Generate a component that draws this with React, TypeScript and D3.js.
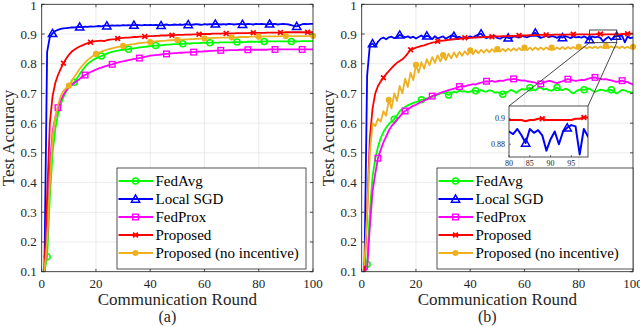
import React, { useEffect, useRef } from 'react';
import * as d3 from 'd3';

// communication rounds on the x axis
const rounds = d3.range(1, 101);

const names = ['FedAvg', 'Local SGD', 'FedProx', 'Proposed', 'Proposed (no incentive)'];
const colors = ['#00ff00', '#0000ff', '#ff00ff', '#ff0000', '#edb120'];
const markers = ['circle', 'triangle', 'square', 'x', 'dot'];
const markerStart = [2, 4, 6, 8, 10];

const xTicks = [0, 20, 40, 60, 80, 100];
const yTicks = [0.1, 0.2, 0.3, 0.4, 0.5, 0.6, 0.7, 0.8, 0.9, 1];
const insetXTicks = [80, 85, 90, 95];
const insetYTicks = [0.88, 0.9];

// ---- panel (a) ----
const fedAvgA = [
  0.100, 0.150, 0.350, 0.500, 0.580, 0.630, 0.662, 0.687, 0.706, 0.720,
  0.730, 0.738, 0.750, 0.765, 0.778, 0.790, 0.800, 0.807, 0.813, 0.818,
  0.822, 0.826, 0.830, 0.834, 0.837, 0.840, 0.842, 0.844, 0.846, 0.847,
  0.848, 0.849, 0.851, 0.852, 0.853, 0.855, 0.856, 0.857, 0.858, 0.859,
  0.860, 0.861, 0.862, 0.862, 0.863, 0.864, 0.864, 0.865, 0.866, 0.866,
  0.867, 0.867, 0.868, 0.868, 0.868, 0.869, 0.869, 0.869, 0.870, 0.870,
  0.870, 0.871, 0.871, 0.871, 0.871, 0.872, 0.872, 0.872, 0.872, 0.872,
  0.873, 0.873, 0.873, 0.873, 0.873, 0.874, 0.874, 0.874, 0.874, 0.874,
  0.874, 0.875, 0.875, 0.875, 0.875, 0.875, 0.875, 0.875, 0.875, 0.875,
  0.875, 0.875, 0.875, 0.875, 0.875, 0.876, 0.876, 0.876, 0.876, 0.876,
];
const localSgdA = [
  0.100, 0.840, 0.890, 0.902, 0.910, 0.914, 0.917, 0.919, 0.920, 0.921,
  0.922, 0.922, 0.923, 0.924, 0.923, 0.925, 0.924, 0.926, 0.925, 0.926,
  0.927, 0.926, 0.928, 0.928, 0.927, 0.929, 0.928, 0.929, 0.928, 0.930,
  0.929, 0.930, 0.929, 0.930, 0.931, 0.930, 0.929, 0.931, 0.930, 0.931,
  0.930, 0.931, 0.930, 0.929, 0.931, 0.932, 0.930, 0.931, 0.932, 0.931,
  0.932, 0.931, 0.933, 0.932, 0.931, 0.932, 0.933, 0.932, 0.931, 0.933,
  0.932, 0.933, 0.932, 0.934, 0.933, 0.932, 0.933, 0.932, 0.934, 0.933,
  0.932, 0.933, 0.934, 0.933, 0.932, 0.934, 0.933, 0.932, 0.934, 0.933,
  0.934, 0.933, 0.932, 0.934, 0.933, 0.934, 0.932, 0.933, 0.934, 0.933,
  0.932, 0.930, 0.927, 0.926, 0.929, 0.933, 0.934, 0.933, 0.934, 0.934,
];
const fedProxA = [
  0.100, 0.200, 0.450, 0.570, 0.620, 0.652, 0.676, 0.695, 0.710, 0.720,
  0.728, 0.735, 0.742, 0.749, 0.756, 0.762, 0.767, 0.772, 0.776, 0.780,
  0.784, 0.787, 0.790, 0.793, 0.796, 0.798, 0.801, 0.804, 0.806, 0.808,
  0.810, 0.812, 0.814, 0.816, 0.817, 0.819, 0.821, 0.823, 0.825, 0.827,
  0.828, 0.829, 0.830, 0.831, 0.832, 0.833, 0.834, 0.835, 0.836, 0.836,
  0.837, 0.837, 0.838, 0.838, 0.839, 0.839, 0.840, 0.841, 0.841, 0.842,
  0.842, 0.843, 0.843, 0.844, 0.844, 0.845, 0.845, 0.845, 0.846, 0.846,
  0.846, 0.846, 0.847, 0.847, 0.847, 0.847, 0.847, 0.847, 0.847, 0.847,
  0.847, 0.847, 0.847, 0.848, 0.848, 0.848, 0.848, 0.848, 0.848, 0.848,
  0.848, 0.848, 0.848, 0.848, 0.848, 0.848, 0.848, 0.848, 0.848, 0.848,
];
const proposedA = [
  0.100, 0.350, 0.600, 0.690, 0.735, 0.762, 0.783, 0.802, 0.817, 0.830,
  0.840, 0.847, 0.853, 0.858, 0.862, 0.866, 0.869, 0.872, 0.874, 0.876,
  0.877, 0.878, 0.876, 0.879, 0.881, 0.882, 0.883, 0.885, 0.886, 0.887,
  0.888, 0.888, 0.889, 0.890, 0.890, 0.891, 0.891, 0.892, 0.892, 0.893,
  0.893, 0.894, 0.894, 0.895, 0.895, 0.895, 0.896, 0.896, 0.896, 0.897,
  0.897, 0.897, 0.898, 0.898, 0.898, 0.899, 0.899, 0.899, 0.900, 0.900,
  0.900, 0.900, 0.901, 0.901, 0.901, 0.901, 0.902, 0.902, 0.902, 0.902,
  0.902, 0.903, 0.903, 0.903, 0.903, 0.903, 0.904, 0.904, 0.904, 0.904,
  0.904, 0.904, 0.905, 0.905, 0.905, 0.905, 0.905, 0.905, 0.905, 0.906,
  0.906, 0.906, 0.906, 0.906, 0.906, 0.906, 0.906, 0.906, 0.906, 0.906,
];
const noIncentiveA = [
  0.100, 0.200, 0.400, 0.550, 0.620, 0.660, 0.690, 0.708, 0.718, 0.726,
  0.740, 0.755, 0.769, 0.782, 0.794, 0.804, 0.813, 0.820, 0.827, 0.833,
  0.837, 0.841, 0.844, 0.847, 0.850, 0.852, 0.854, 0.856, 0.858, 0.860,
  0.862, 0.863, 0.865, 0.866, 0.868, 0.869, 0.870, 0.871, 0.872, 0.873,
  0.874, 0.875, 0.876, 0.877, 0.877, 0.878, 0.879, 0.879, 0.880, 0.880,
  0.881, 0.881, 0.882, 0.882, 0.883, 0.883, 0.884, 0.884, 0.885, 0.885,
  0.886, 0.886, 0.887, 0.887, 0.887, 0.888, 0.888, 0.888, 0.889, 0.889,
  0.889, 0.889, 0.890, 0.890, 0.890, 0.890, 0.891, 0.891, 0.891, 0.891,
  0.891, 0.892, 0.892, 0.892, 0.892, 0.892, 0.892, 0.893, 0.893, 0.893,
  0.893, 0.893, 0.893, 0.893, 0.893, 0.893, 0.893, 0.893, 0.894, 0.894,
];

// ---- panel (b) ----
const fedAvgB = [
  0.100, 0.125, 0.300, 0.420, 0.480, 0.520, 0.550, 0.570, 0.585, 0.597,
  0.605, 0.613, 0.626, 0.640, 0.648, 0.654, 0.660, 0.664, 0.668, 0.671,
  0.673, 0.679, 0.680, 0.683, 0.686, 0.688, 0.692, 0.696, 0.700, 0.703,
  0.700, 0.695, 0.701, 0.706, 0.703, 0.710, 0.706, 0.708, 0.704, 0.706,
  0.710, 0.709, 0.704, 0.712, 0.707, 0.706, 0.711, 0.709, 0.703, 0.704,
  0.700, 0.697, 0.703, 0.706, 0.712, 0.708, 0.702, 0.710, 0.715, 0.713,
  0.716, 0.719, 0.712, 0.710, 0.718, 0.720, 0.713, 0.716, 0.711, 0.709,
  0.715, 0.720, 0.714, 0.711, 0.716, 0.713, 0.706, 0.700, 0.707, 0.712,
  0.714, 0.712, 0.715, 0.716, 0.710, 0.705, 0.709, 0.713, 0.711, 0.708,
  0.712, 0.712, 0.706, 0.700, 0.706, 0.712, 0.710, 0.706, 0.704, 0.703,
];
const localSgdB = [
  0.100, 0.760, 0.862, 0.868, 0.858, 0.874, 0.884, 0.888, 0.882, 0.889,
  0.891, 0.886, 0.889, 0.897, 0.893, 0.889, 0.892, 0.887, 0.891, 0.885,
  0.890, 0.895, 0.888, 0.894, 0.891, 0.883, 0.893, 0.885, 0.889, 0.892,
  0.884, 0.890, 0.895, 0.893, 0.888, 0.891, 0.885, 0.890, 0.887, 0.892,
  0.888, 0.894, 0.898, 0.901, 0.890, 0.886, 0.891, 0.889, 0.893, 0.887,
  0.884, 0.889, 0.891, 0.887, 0.885, 0.892, 0.890, 0.888, 0.894, 0.891,
  0.889, 0.893, 0.898, 0.904, 0.892, 0.887, 0.890, 0.894, 0.889, 0.893,
  0.891, 0.887, 0.892, 0.888, 0.893, 0.890, 0.886, 0.892, 0.889, 0.890,
  0.888, 0.892, 0.887, 0.881, 0.892, 0.889, 0.891, 0.887, 0.875, 0.884,
  0.890, 0.880, 0.890, 0.893, 0.895, 0.894, 0.872, 0.892, 0.886, 0.889,
];
const fedProxB = [
  0.100, 0.110, 0.250, 0.370, 0.430, 0.482, 0.510, 0.535, 0.555, 0.575,
  0.590, 0.600, 0.612, 0.622, 0.632, 0.641, 0.647, 0.653, 0.658, 0.662,
  0.667, 0.672, 0.676, 0.680, 0.685, 0.691, 0.695, 0.698, 0.702, 0.705,
  0.708, 0.711, 0.714, 0.716, 0.719, 0.723, 0.725, 0.724, 0.727, 0.729,
  0.731, 0.730, 0.734, 0.736, 0.739, 0.741, 0.740, 0.742, 0.739, 0.741,
  0.743, 0.742, 0.745, 0.747, 0.746, 0.749, 0.747, 0.745, 0.743, 0.744,
  0.741, 0.740, 0.738, 0.736, 0.733, 0.732, 0.737, 0.740, 0.742, 0.741,
  0.737, 0.735, 0.738, 0.741, 0.745, 0.748, 0.746, 0.744, 0.742, 0.744,
  0.746, 0.745, 0.748, 0.751, 0.753, 0.754, 0.751, 0.749, 0.747, 0.748,
  0.746, 0.744, 0.741, 0.739, 0.741, 0.743, 0.740, 0.738, 0.734, 0.730,
];
const proposedB = [
  0.100, 0.300, 0.550, 0.650, 0.700, 0.725, 0.740, 0.753, 0.765, 0.775,
  0.785, 0.795, 0.803, 0.809, 0.815, 0.824, 0.835, 0.847, 0.850, 0.854,
  0.857, 0.860, 0.862, 0.865, 0.868, 0.871, 0.873, 0.876, 0.877, 0.878,
  0.879, 0.880, 0.881, 0.882, 0.883, 0.884, 0.885, 0.887, 0.886, 0.887,
  0.888, 0.888, 0.889, 0.889, 0.890, 0.890, 0.891, 0.891, 0.892, 0.892,
  0.892, 0.893, 0.893, 0.893, 0.894, 0.894, 0.894, 0.895, 0.895, 0.895,
  0.895, 0.896, 0.896, 0.896, 0.896, 0.897, 0.897, 0.897, 0.897, 0.897,
  0.898, 0.898, 0.898, 0.898, 0.898, 0.898, 0.899, 0.899, 0.899, 0.899,
  0.899, 0.899, 0.899, 0.898, 0.899, 0.899, 0.900, 0.900, 0.899, 0.899,
  0.899, 0.899, 0.899, 0.899, 0.899, 0.900, 0.900, 0.901, 0.901, 0.901,
];
const noIncentiveB = [
  0.120, 0.300, 0.500, 0.600, 0.590, 0.615, 0.605, 0.640, 0.625, 0.678,
  0.650, 0.700, 0.675, 0.725, 0.700, 0.750, 0.722, 0.770, 0.745, 0.796,
  0.770, 0.805, 0.783, 0.815, 0.795, 0.822, 0.803, 0.828, 0.808, 0.829,
  0.812, 0.834, 0.818, 0.838, 0.822, 0.840, 0.827, 0.842, 0.830, 0.845,
  0.832, 0.846, 0.835, 0.847, 0.837, 0.848, 0.838, 0.849, 0.840, 0.849,
  0.841, 0.850, 0.842, 0.851, 0.843, 0.852, 0.844, 0.853, 0.845, 0.854,
  0.846, 0.854, 0.846, 0.855, 0.847, 0.855, 0.847, 0.855, 0.848, 0.854,
  0.848, 0.855, 0.849, 0.856, 0.849, 0.856, 0.850, 0.856, 0.850, 0.857,
  0.851, 0.857, 0.851, 0.857, 0.852, 0.858, 0.852, 0.858, 0.853, 0.860,
  0.853, 0.859, 0.853, 0.858, 0.852, 0.858, 0.852, 0.857, 0.852, 0.857,
];

const FONT = '"Liberation Serif", "Times New Roman", serif';
const AXIS = '#262626';
const GRID = '#e3e3e3';
const TOP = 4.3;
const BOTTOM = 271.7;

type G = d3.Selection<SVGGElement, unknown, null, undefined>;

function drawMarker(g: G, type: string, cx: number, cy: number, color: string) {
  if (type === 'circle') {
    g.append('circle').attr('cx', cx).attr('cy', cy).attr('r', 3)
      .attr('fill', 'none').attr('stroke', color).attr('stroke-width', 1.5);
  } else if (type === 'dot') {
    g.append('circle').attr('cx', cx).attr('cy', cy).attr('r', 3.1).attr('fill', color);
  } else if (type === 'triangle') {
    g.append('path').attr('d', d3.symbol(d3.symbolTriangle, 30)())
      .attr('transform', `translate(${cx},${cy + 0.8})`)
      .attr('fill', 'none').attr('stroke', color).attr('stroke-width', 1.5);
  } else if (type === 'square') {
    g.append('rect').attr('x', cx - 2.8).attr('y', cy - 2.8).attr('width', 5.6).attr('height', 5.6)
      .attr('fill', 'none').attr('stroke', color).attr('stroke-width', 1.4);
  } else {
    g.append('path').attr('d', 'M-2.4,-2.4L2.4,2.4M-2.4,2.4L2.4,-2.4')
      .attr('transform', `translate(${cx},${cy})`)
      .attr('stroke', color).attr('stroke-width', 1.7);
  }
}

function drawPanel(root: G, series: number[][], left: number, right: number, legend: number[], caption: string) {
  const x = d3.scaleLinear().domain([0, 100]).range([left, right]);
  const y = d3.scaleLinear().domain([0.1, 1]).range([BOTTOM, TOP]);
  const g = root.append('g');

  g.append('rect').attr('x', left).attr('y', TOP).attr('width', right - left).attr('height', BOTTOM - TOP).attr('fill', '#fff');

  xTicks.forEach((t) => {
    g.append('line').attr('x1', x(t)).attr('x2', x(t)).attr('y1', TOP).attr('y2', BOTTOM).attr('stroke', GRID).attr('stroke-width', 0.7);
  });
  yTicks.forEach((t) => {
    g.append('line').attr('x1', left).attr('x2', right).attr('y1', y(t)).attr('y2', y(t)).attr('stroke', GRID).attr('stroke-width', 0.7);
  });

  const line = d3.line<number>().x((_, i) => x(rounds[i])).y((d) => y(d));
  series.forEach((s, k) => {
    g.append('path').attr('d', line(s)).attr('fill', 'none')
      .attr('stroke', colors[k]).attr('stroke-width', 1.8).attr('stroke-linejoin', 'round');
    for (let r = markerStart[k]; r <= 100; r += 10) {
      drawMarker(g, markers[k], x(r), y(s[r - 1]), colors[k]);
    }
  });

  // frame and ticks
  g.append('rect').attr('x', left).attr('y', TOP).attr('width', right - left).attr('height', BOTTOM - TOP)
    .attr('fill', 'none').attr('stroke', AXIS).attr('stroke-width', 0.8);
  xTicks.forEach((t) => {
    g.append('line').attr('x1', x(t)).attr('x2', x(t)).attr('y1', BOTTOM).attr('y2', BOTTOM - 3).attr('stroke', AXIS).attr('stroke-width', 0.8);
    g.append('line').attr('x1', x(t)).attr('x2', x(t)).attr('y1', TOP).attr('y2', TOP + 3).attr('stroke', AXIS).attr('stroke-width', 0.8);
    g.append('text').attr('x', x(t)).attr('y', 283).attr('text-anchor', 'middle').attr('dominant-baseline', 'central')
      .attr('font-family', FONT).attr('font-size', 13).attr('fill', AXIS).text(t);
  });
  yTicks.forEach((t) => {
    g.append('line').attr('x1', left).attr('x2', left + 3).attr('y1', y(t)).attr('y2', y(t)).attr('stroke', AXIS).attr('stroke-width', 0.8);
    g.append('line').attr('x1', right).attr('x2', right - 3).attr('y1', y(t)).attr('y2', y(t)).attr('stroke', AXIS).attr('stroke-width', 0.8);
    g.append('text').attr('x', left - 5).attr('y', t === 1 ? y(t) + 1 : y(t)).attr('text-anchor', 'end').attr('dominant-baseline', 'central')
      .attr('font-family', FONT).attr('font-size', 13).attr('fill', AXIS).text(t === 1 ? '1' : t.toFixed(1));
  });

  g.append('text').attr('x', (left + right) / 2).attr('y', 305).attr('text-anchor', 'middle')
    .attr('font-family', FONT).attr('font-size', 17).attr('fill', AXIS).text('Communication Round');
  g.append('text').attr('transform', `translate(${left - 28},${(TOP + BOTTOM) / 2}) rotate(-90)`).attr('text-anchor', 'middle')
    .attr('font-family', FONT).attr('font-size', 17).attr('fill', AXIS).text('Test Accuracy');
  g.append('text').attr('x', (left + right) / 2 - 10).attr('y', 322).attr('text-anchor', 'middle')
    .attr('font-family', FONT).attr('font-size', 16).attr('fill', AXIS).text(caption);

  // legend
  const [lx, ly, lw, lh] = legend;
  const lg = root.append('g');
  lg.append('rect').attr('x', lx).attr('y', ly).attr('width', lw).attr('height', lh)
    .attr('fill', '#fff').attr('stroke', AXIS).attr('stroke-width', 0.8);
  names.forEach((n, k) => {
    const cy = ly + 13 + k * 18;
    lg.append('line').attr('x1', lx + 1.5).attr('x2', lx + 36).attr('y1', cy).attr('y2', cy)
      .attr('stroke', colors[k]).attr('stroke-width', 1.8);
    drawMarker(lg, markers[k], lx + 18.5, cy, colors[k]);
    lg.append('text').attr('x', lx + 38.5).attr('y', cy).attr('dominant-baseline', 'central')
      .attr('font-family', FONT).attr('font-size', 15).attr('fill', '#000').text(n);
  });

  return { x, y };
}

const App = () => {
  const ref = useRef<SVGSVGElement>(null);

  useEffect(() => {
    const svg = d3.select(ref.current);
    svg.selectAll('*').remove();
    const root = svg.append('g') as unknown as G;

    drawPanel(root, [fedAvgA, localSgdA, fedProxA, proposedA, noIncentiveA], 41.7, 313, [117, 168, 189, 101], '(a)');
    const { x, y } = drawPanel(root, [fedAvgB, localSgdB, fedProxB, proposedB, noIncentiveB], 361.7, 633, [437, 168, 196, 101], '(b)');

    // zoom box on panel (b)
    const bx0 = x(84), bx1 = x(94), by0 = y(0.9135), by1 = y(0.871);
    const ix0 = 509, ix1 = 588, iy0 = 106, iy1 = 157;
    root.append('rect').attr('x', bx0).attr('y', by0).attr('width', bx1 - bx0).attr('height', by1 - by0)
      .attr('fill', 'none').attr('stroke', '#333').attr('stroke-width', 0.9);
    root.append('line').attr('x1', bx0).attr('y1', by1).attr('x2', ix0).attr('y2', iy0).attr('stroke', '#333').attr('stroke-width', 0.9);
    root.append('line').attr('x1', bx1).attr('y1', by1).attr('x2', ix1).attr('y2', iy0).attr('stroke', '#333').attr('stroke-width', 0.9);

    const ix = d3.scaleLinear().domain([80, 99]).range([ix0, ix1]);
    const iy = d3.scaleLinear().domain([0.87, 0.91]).range([iy1, iy0]);
    const inset = root.append('g');
    inset.append('rect').attr('x', ix0).attr('y', iy0).attr('width', ix1 - ix0).attr('height', iy1 - iy0).attr('fill', '#fff');
    svg.append('defs').append('clipPath').attr('id', 'inset-clip')
      .append('rect').attr('x', ix0).attr('y', iy0).attr('width', ix1 - ix0).attr('height', iy1 - iy0);
    const clipped = inset.append('g').attr('clip-path', 'url(#inset-clip)');
    const iline = d3.line<number>().x((_, i) => ix(rounds[i])).y((d) => iy(d));
    [[1, localSgdB], [3, proposedB]].forEach(([k, s]) => {
      const idx = k as number;
      const data = s as number[];
      clipped.append('path').attr('d', iline(data)).attr('fill', 'none')
        .attr('stroke', colors[idx]).attr('stroke-width', 2).attr('stroke-linejoin', 'round');
      for (let r = markerStart[idx]; r <= 100; r += 10) {
        if (r >= 80 && r <= 99) drawMarker(clipped, markers[idx], ix(r), iy(data[r - 1]), colors[idx]);
      }
    });
    inset.append('rect').attr('x', ix0).attr('y', iy0).attr('width', ix1 - ix0).attr('height', iy1 - iy0)
      .attr('fill', 'none').attr('stroke', AXIS).attr('stroke-width', 0.8);
    insetXTicks.forEach((t) => {
      inset.append('line').attr('x1', ix(t)).attr('x2', ix(t)).attr('y1', iy1).attr('y2', iy1 - 2).attr('stroke', AXIS).attr('stroke-width', 0.6);
      inset.append('text').attr('x', ix(t)).attr('y', 163.5).attr('text-anchor', 'middle').attr('dominant-baseline', 'central')
        .attr('font-family', FONT).attr('font-size', 8).attr('fill', AXIS).text(t);
    });
    insetYTicks.forEach((t) => {
      inset.append('line').attr('x1', ix0).attr('x2', ix0 + 2).attr('y1', iy(t)).attr('y2', iy(t)).attr('stroke', AXIS).attr('stroke-width', 0.6);
      inset.append('text').attr('x', ix0 - 4).attr('y', iy(t)).attr('text-anchor', 'end').attr('dominant-baseline', 'central')
        .attr('font-family', FONT).attr('font-size', 8).attr('fill', AXIS).text(t === 0.9 ? '0.9' : '0.88');
    });
  }, []);

  return (
    <svg ref={ref} width={640} height={327} style={{ position: 'absolute', left: 0, top: 0, background: '#fff' }} />
  );
};

export default App;
